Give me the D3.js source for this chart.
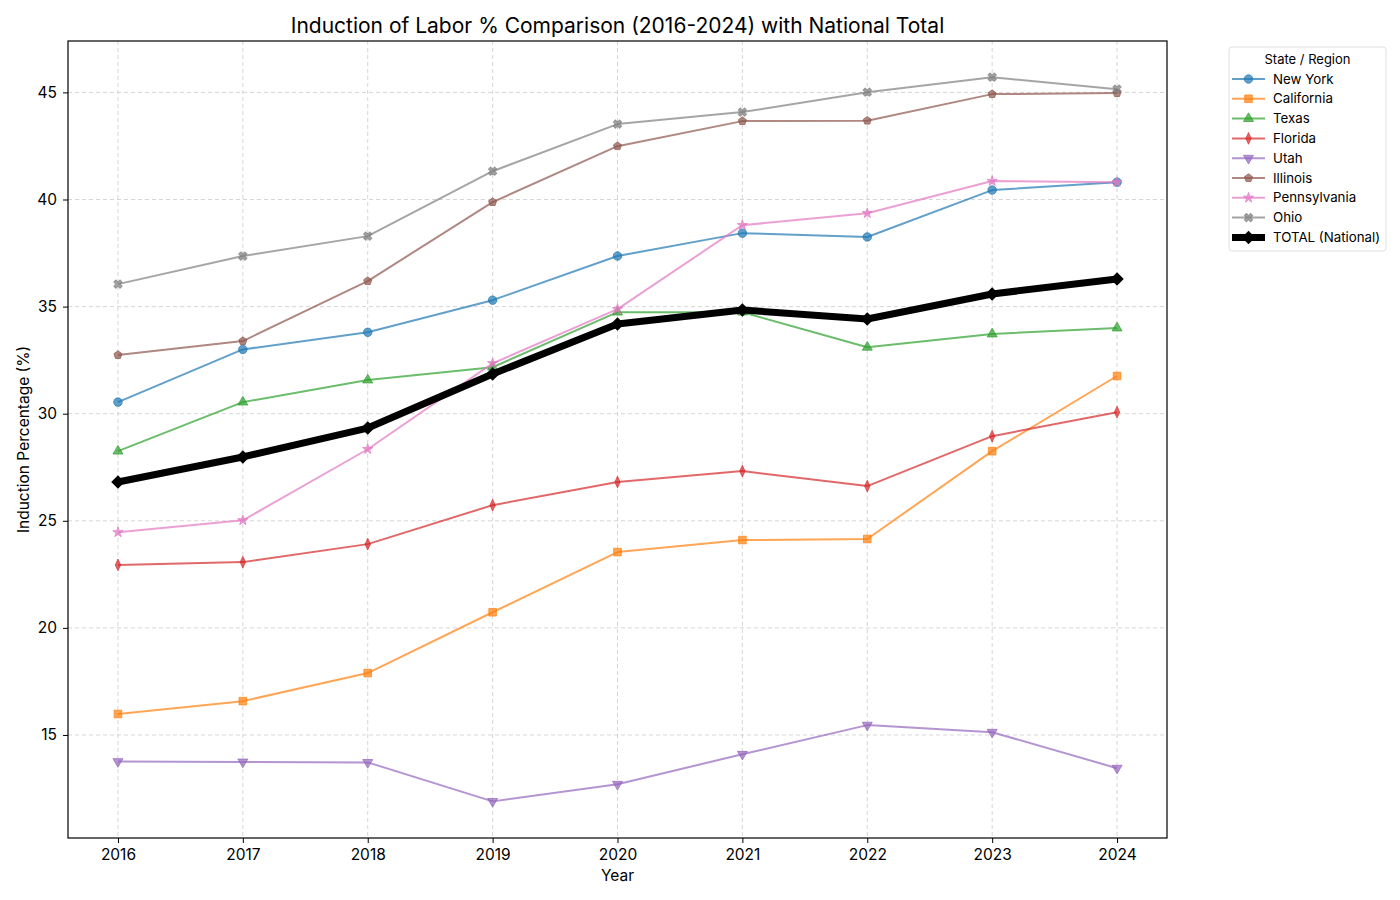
<!DOCTYPE html>
<html>
<head>
<meta charset="utf-8">
<script src="https://cdnjs.cloudflare.com/ajax/libs/d3/7.8.5/d3.min.js"></script>
<style>
  body { margin: 0; background: #fff; }
  svg { display: block; font-family: Inter, "Open Sans", sans-serif; }
  .grid line { stroke: #cccccc; stroke-dasharray: 4 3; stroke-width: 0.8; }
  .axis path, .axis line { stroke: #000; }
</style>
</head>
<body>
<svg id="chart" width="1400" height="900"></svg>
<script>
// Data
var years = [2016, 2017, 2018, 2019, 2020, 2021, 2022, 2023, 2024];
var yTicks = [15, 20, 25, 30, 35, 40, 45];

var newYork      = [30.54, 33.00, 33.80, 35.30, 37.36, 38.43, 38.25, 40.44, 40.81];
var california   = [15.98, 16.58, 17.89, 20.73, 23.54, 24.10, 24.15, 28.25, 31.76];
var texas        = [28.25, 30.54, 31.57, 32.17, 34.74, 34.74, 33.10, 33.72, 34.00];
var florida      = [22.94, 23.07, 23.91, 25.73, 26.81, 27.32, 26.62, 28.95, 30.07];
var utah         = [13.76, 13.74, 13.72, 11.90, 12.70, 14.10, 15.46, 15.13, 13.45];
var illinois     = [32.74, 33.39, 36.19, 39.88, 42.49, 43.66, 43.68, 44.92, 44.97];
var pennsylvania = [24.46, 25.02, 28.34, 32.35, 34.88, 38.80, 39.36, 40.86, 40.81];
var ohio         = [36.05, 37.36, 38.29, 41.32, 43.52, 44.08, 45.01, 45.71, 45.15];
var totalNational = [26.81, 27.98, 29.33, 31.85, 34.19, 34.84, 34.42, 35.59, 36.29];

var seriesNames = ['New York', 'California', 'Texas', 'Florida', 'Utah', 'Illinois', 'Pennsylvania', 'Ohio', 'TOTAL (National)'];
var seriesValues = [newYork, california, texas, florida, utah, illinois, pennsylvania, ohio, totalNational];
var seriesColors = ['#1f77b4', '#ff7f0e', '#2ca02c', '#d62728', '#9467bd', '#8c564b', '#e377c2', '#7f7f7f', '#000000'];
var seriesMarkers = ['circle', 'square', 'triangle', 'thindiamond', 'triangledown', 'pentagon', 'star', 'x', 'diamond'];

var margin = { left: 68, top: 41, right: 1167, bottom: 838 };
var svg = d3.select('#chart');

var x = d3.scaleLinear().domain([2015.6, 2024.4]).range([margin.left, margin.right]);
var y = d3.scaleLinear().domain([10.19, 47.4]).range([margin.bottom, margin.top]);

// title
svg.append('text')
  .attr('x', (margin.left + margin.right) / 2).attr('y', 33)
  .attr('text-anchor', 'middle')
  .style('font-size', '21px')
  .text('Induction of Labor % Comparison (2016-2024) with National Total');

// grid
var grid = svg.append('g').attr('class', 'grid');
grid.selectAll('line.v').data(years).enter().append('line')
  .attr('x1', function(d) { return x(d); }).attr('x2', function(d) { return x(d); })
  .attr('y1', margin.top).attr('y2', margin.bottom);
grid.selectAll('line.h').data(yTicks).enter().append('line')
  .attr('y1', function(d) { return y(d); }).attr('y2', function(d) { return y(d); })
  .attr('x1', margin.left).attr('x2', margin.right);

// axes
var xAxis = svg.append('g').attr('class', 'axis')
  .attr('transform', 'translate(0,' + margin.bottom + ')')
  .call(d3.axisBottom(x).tickValues(years).tickFormat(d3.format('d')).tickSize(5).tickPadding(6));
xAxis.select('.domain').remove();
var yAxis = svg.append('g').attr('class', 'axis')
  .attr('transform', 'translate(' + margin.left + ',0)')
  .call(d3.axisLeft(y).tickValues(yTicks).tickSize(5).tickPadding(6));
yAxis.select('.domain').remove();
svg.selectAll('.axis').attr('font-family', null).attr('font-size', null);
svg.selectAll('.axis text').style('font-size', '15.5px').style('fill', '#000');

svg.append('rect')
  .attr('x', margin.left).attr('y', margin.top)
  .attr('width', margin.right - margin.left).attr('height', margin.bottom - margin.top)
  .attr('fill', 'none').attr('stroke', '#000').attr('stroke-width', 1.2);

svg.append('text').attr('x', (margin.left + margin.right) / 2).attr('y', 881)
  .attr('text-anchor', 'middle').style('font-size', '15.5px').text('Year');
svg.append('text')
  .attr('transform', 'translate(29,' + ((margin.top + margin.bottom) / 2) + ') rotate(-90)')
  .attr('text-anchor', 'middle').style('font-size', '15.5px').text('Induction Percentage (%)');

// marker path generator
function markerPath(kind, s) {
  var sym = d3.symbol();
  switch (kind) {
    case 'circle': return sym.type(d3.symbolCircle).size(s * s * Math.PI / 4)();
    case 'square': return sym.type(d3.symbolSquare).size(s * s * 0.8)();
    case 'triangle': return sym.type(d3.symbolTriangle).size(s * s * 0.6)();
    case 'triangledown': return sym.type(d3.symbolTriangle).size(s * s * 0.6)();
    case 'star': return sym.type(d3.symbolStar).size(s * s * 0.45)();
    case 'x': return sym.type(d3.symbolCross).size(s * s * 0.6)();
    case 'diamond': return sym.type(d3.symbolSquare).size(s * s * 0.6)();
    case 'thindiamond': return sym.type(d3.symbolDiamond).size(s * s * 0.55)();
    case 'pentagon':
      var r = s * 0.5, pts = [];
      for (var i = 0; i < 5; i++) {
        var a = -Math.PI / 2 + i * 2 * Math.PI / 5;
        pts.push([r * Math.cos(a), r * Math.sin(a)]);
      }
      return 'M' + pts.join('L') + 'Z';
  }
}
function markerTransform(kind, px, py) {
  var t = 'translate(' + px + ',' + py + ')';
  if (kind === 'triangledown') t += ' rotate(180)';
  if (kind === 'x' || kind === 'diamond') t += ' rotate(45)';
  if (kind === 'thindiamond') t += ' scale(0.8,1)';
  return t;
}

var line = d3.line().x(function(d, i) { return x(years[i]); }).y(function(d) { return y(d); });

seriesValues.forEach(function(vals, si) {
  var isTotal = si === seriesValues.length - 1;
  var color = seriesColors[si];
  var alpha = isTotal ? 1 : 0.7;
  var g = svg.append('g');
  g.append('path').datum(vals)
    .attr('d', line)
    .attr('fill', 'none')
    .attr('stroke', color)
    .attr('stroke-opacity', alpha)
    .attr('stroke-width', isTotal ? 7 : 2)
    .attr('stroke-linejoin', 'round');
  var ms = isTotal ? 11 : 8.5;
  g.selectAll('path.m').data(vals).enter().append('path')
    .attr('d', markerPath(seriesMarkers[si], ms))
    .attr('transform', function(d, i) { return markerTransform(seriesMarkers[si], x(years[i]), y(d)); })
    .attr('fill', color).attr('fill-opacity', alpha)
    .attr('stroke', color).attr('stroke-opacity', alpha).attr('stroke-width', 1);
});

// legend
var lg = svg.append('g').attr('transform', 'translate(1229,47)');
lg.append('rect').attr('width', 157).attr('height', 204).attr('rx', 3)
  .attr('fill', '#fff').attr('stroke', '#e0e0e0').attr('stroke-width', 1);
lg.append('text').attr('x', 78.5).attr('y', 17).attr('text-anchor', 'middle')
  .style('font-size', '13px').text('State / Region');
seriesNames.forEach(function(name, si) {
  var isTotal = si === seriesNames.length - 1;
  var cy = 32 + si * 19.8;
  var alpha = isTotal ? 1 : 0.7;
  lg.append('line').attr('x1', 3).attr('x2', 36).attr('y1', cy).attr('y2', cy)
    .attr('stroke', seriesColors[si]).attr('stroke-opacity', alpha)
    .attr('stroke-width', isTotal ? 7 : 2);
  lg.append('path')
    .attr('d', markerPath(seriesMarkers[si], isTotal ? 11 : 8.5))
    .attr('transform', markerTransform(seriesMarkers[si], 19.5, cy))
    .attr('fill', seriesColors[si]).attr('fill-opacity', alpha)
    .attr('stroke', seriesColors[si]).attr('stroke-opacity', alpha);
  lg.append('text').attr('x', 44).attr('y', cy + 4.5)
    .style('font-size', '13.3px').text(name);
});
</script>
</body>
</html>
